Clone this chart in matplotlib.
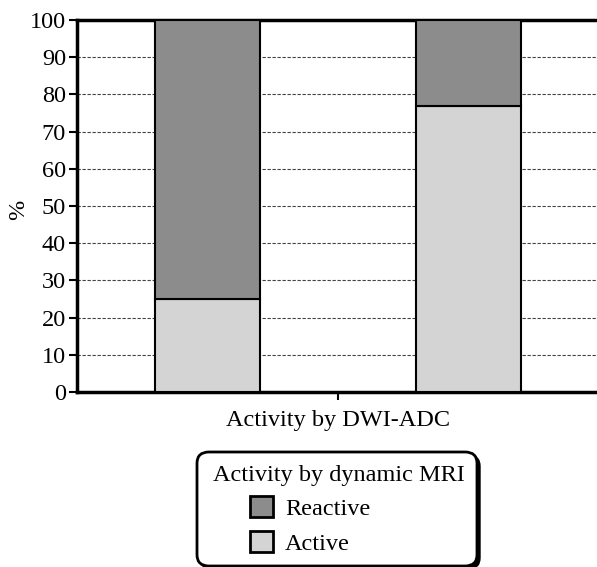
import matplotlib
matplotlib.use("Agg")
import matplotlib.pyplot as plt
from matplotlib.patches import FancyBboxPatch, Patch
import numpy as np

plt.rcParams['font.family'] = ['Liberation Serif', 'DejaVu Serif']

categories = ["Group A", "Group B"]
active = [25, 77]
reactive = [75, 23]
series_labels = ["Reactive", "Active"]
yticks = [0, 10, 20, 30, 40, 50, 60, 70, 80, 90, 100]
xlabel = "Activity by DWI-ADC"
ylabel = "%"
legend_title = "Activity by dynamic MRI"

c_reactive = "#8c8c8c"
c_active = "#d4d4d4"
FS = 17.5

W, H = 597, 567
fig = plt.figure(figsize=(W / 100, H / 100), dpi=100)
ax = fig.add_axes([77 / W, 1 - 392 / H, (599 - 77) / W, (392 - 20) / H])

x = np.arange(len(categories))
ax.bar(x, active, width=0.4, color=c_active, edgecolor="black", linewidth=1.5, zorder=3)
ax.bar(x, reactive, width=0.4, bottom=active, color=c_reactive, edgecolor="black", linewidth=1.5, zorder=3)

ax.set_xlim(-0.5, 1.5)
ax.set_ylim(0, 100)
ax.set_yticks(yticks)
ax.set_yticklabels([str(t) for t in yticks], fontsize=FS)
ax.set_xticks([0.5])
ax.set_xticklabels([""])
ax.tick_params(axis="both", direction="out", length=6, width=1.5, color="black", pad=2)
for t in yticks[1:-1]:
    ax.axhline(t, color="#444444", linewidth=0.8, linestyle=(0, (3, 1.5)), zorder=1)

for s in ["left", "bottom", "top"]:
    ax.spines[s].set_linewidth(2.5)
ax.spines["right"].set_visible(False)

ax.set_xlabel(xlabel, fontsize=FS, labelpad=5)
ax.set_ylabel(ylabel, fontsize=FS)
ax.yaxis.set_label_coords(-0.092, 0.49)

# legend box
box_l, box_r, box_t, box_b = 197, 477, 452, 566
shadow = FancyBboxPatch((box_l / W + 3 / W, 1 - box_b / H - 3 / H), (box_r - box_l) / W, (box_b - box_t) / H,
                        boxstyle="round,pad=0,rounding_size=0.02", transform=fig.transFigure,
                        facecolor="black", edgecolor="black", linewidth=1, zorder=5)
box = FancyBboxPatch((box_l / W, 1 - box_b / H), (box_r - box_l) / W, (box_b - box_t) / H,
                     boxstyle="round,pad=0,rounding_size=0.02", transform=fig.transFigure,
                     facecolor="white", edgecolor="black", linewidth=2, zorder=6)
fig.patches.extend([shadow, box])
fig.text(339 / W, 1 - 475 / H, legend_title, ha="center", va="center", fontsize=FS, zorder=7)

handles = [Patch(facecolor=c_reactive, edgecolor="black", linewidth=2),
           Patch(facecolor=c_active, edgecolor="black", linewidth=2)]
leg = fig.legend(handles, series_labels, loc="upper left", bbox_to_anchor=(250 / W, 1 - 496 / H),
                 frameon=False, fontsize=FS, borderpad=0, borderaxespad=0,
                 handlelength=0.95, handleheight=0.95, handletextpad=0.5, labelspacing=0.45)
leg.set_zorder(8)

fig.savefig("out.png", dpi=100)
